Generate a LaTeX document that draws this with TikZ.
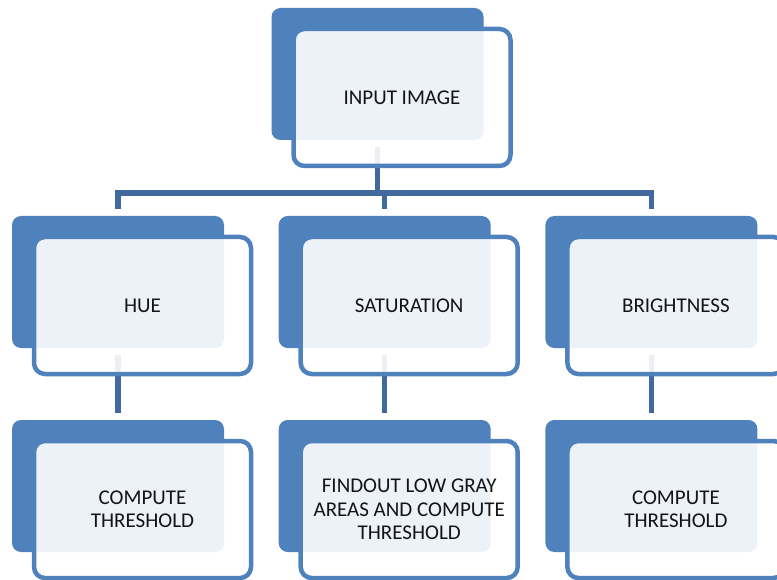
\documentclass[tikz,border=0pt]{standalone}
\usepackage{fontspec}
\setmainfont{Carlito}
\usetikzlibrary{backgrounds}
\definecolor{boxblue}{HTML}{4F81BD}
\definecolor{linkblue}{HTML}{41699E}
\begin{document}
\begin{tikzpicture}[x=1pt,y=1pt,
  backbox/.style={fill=boxblue, rounded corners=9pt, minimum width=212pt, minimum height=132pt, inner sep=0pt},
  frontbox/.style={draw=boxblue, line width=4.5pt, rounded corners=11pt, fill=white, fill opacity=0.9, text opacity=1,
    minimum width=217pt, minimum height=137pt, inner sep=0pt, align=center,
    font=\fontsize{21}{23.5}\selectfont, text=black!92},
  conn/.style={draw=linkblue, line width=5.25pt}]
\useasboundingbox (0,0) rectangle (777,-580);
\clip (0,0) rectangle (777,-580);
\coordinate (bar) at (0,-193);
% back boxes
\node[backbox] (inB) at (377.5,-74) {};
\node[backbox] (hueB) at (118,-282) {};
\node[backbox] (satB) at (384.7,-282) {};
\node[backbox] (briB) at (651.4,-282) {};
\node[backbox] (hueT) at (118,-486) {};
\node[backbox] (satT) at (384.7,-486) {};
\node[backbox] (briT) at (651.4,-486) {};
% front boxes
\node[frontbox] (in) at ([shift={(24.5,-23.5)}]inB.center) {INPUT IMAGE};
\node[frontbox] (hue) at ([shift={(24.5,-23.5)}]hueB.center) {HUE};
\node[frontbox] (sat) at ([shift={(24.5,-23.5)}]satB.center) {SATURATION};
\node[frontbox] (bri) at ([shift={(24.5,-23.5)}]briB.center) {BRIGHTNESS};
\node[frontbox] (hueth) at ([shift={(24.5,-23.5)}]hueT.center) {COMPUTE\\THRESHOLD};
\node[frontbox] (satth) at ([shift={(24.5,-23.5)}]satT.center) {FINDOUT LOW GRAY\\AREAS AND COMPUTE\\THRESHOLD};
\node[frontbox] (brith) at ([shift={(24.5,-23.5)}]briT.center) {COMPUTE\\THRESHOLD};
% connectors
\begin{pgfonlayer}{background}
\draw[conn] ([yshift=-7pt]inB.south) -- (inB.south |- bar);
\draw[conn] ([yshift=7pt]hueB.north) |- (briB.north |- bar) -- ([yshift=7pt]briB.north);
\draw[conn] (satB.north |- bar) -- ([yshift=7pt]satB.north);
\draw[conn] ([yshift=-7pt]hueB.south) -- ([yshift=7pt]hueT.north);
\draw[conn] ([yshift=-7pt]satB.south) -- ([yshift=7pt]satT.north);
\draw[conn] ([yshift=-7pt]briB.south) -- ([yshift=7pt]briT.north);
\end{pgfonlayer}
\end{tikzpicture}
\end{document}
